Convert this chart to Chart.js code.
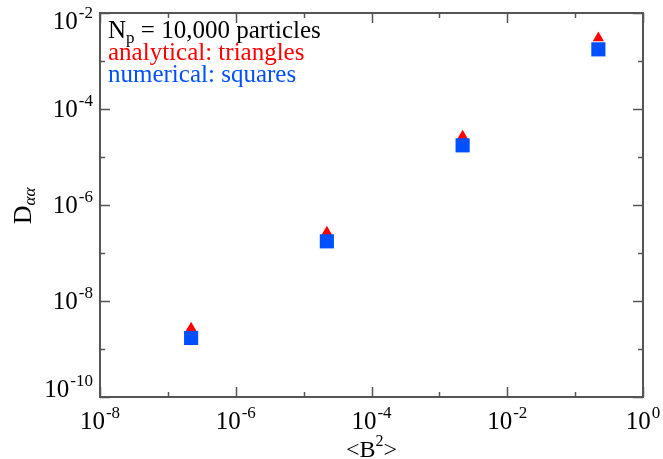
<!DOCTYPE html>
<html>
<head>
<meta charset="utf-8">
<script src="https://cdn.jsdelivr.net/npm/chart.js@4"></script>
<style>
  html, body { margin: 0; padding: 0; background: #fff; }
  #wrap { width: 663px; height: 459px; }
</style>
</head>
<body>
<div id="wrap"><canvas id="graph"></canvas></div>
<script>
const canvas = document.getElementById('graph');

// <B^2> values and diffusion coefficients
const fieldPower = [2.2e-7, 2.2e-5, 2.2e-3, 2.2e-1];
const analytical = [2.7e-9, 2.7e-7, 2.7e-5, 3.0e-3];
const numerical = [1.7e-9, 1.75e-7, 1.75e-5, 1.75e-3];

// decade exponents for ticks; labelled ones get long ticks
const xDecades = [-8, -7, -6, -5, -4, -3, -2, -1, 0];
const xLabelled = [-8, -6, -4, -2, 0];
const yDecades = [-10, -9, -8, -7, -6, -5, -4, -3, -2];
const yLabelled = [-10, -8, -6, -4, -2];

const legendLines = [
    { text: 'N', sub: 'p', rest: ' = 10,000 particles', color: '#000000' },
    { text: 'analytical: triangles', color: '#ff0000' },
    { text: 'numerical: squares', color: '#0050ff' }
];

const SERIF = '"Liberation Serif", "DejaVu Serif", serif';
const RED = '#ff0000';
const BLUE = '#0050ff';

function toPoints(xs, ys) {
    return xs.map((x, i) => ({ x: x, y: ys[i] }));
}

function powerLabelWidth(ctx, exp) {
    ctx.font = '25px ' + SERIF;
    const w1 = ctx.measureText('10').width;
    ctx.font = '17px ' + SERIF;
    const w2 = ctx.measureText(String(exp)).width;
    return [w1, w2];
}

// draws "10" with a raised exponent, left edge at x, "10" centred on y
function drawPower(ctx, exp, x, y) {
    const [w1] = powerLabelWidth(ctx, exp);
    ctx.textBaseline = 'alphabetic';
    ctx.textAlign = 'left';
    ctx.font = '25px ' + SERIF;
    ctx.fillText('10', x, y + 8);
    ctx.font = '17px ' + SERIF;
    ctx.fillText(String(exp), x + w1 + 1, y - 3);
}

const framePlugin = {
    id: 'frame',
    afterDraw(chart) {
        const ctx = chart.ctx;
        const area = chart.chartArea;
        const xs = chart.scales.x;
        const ys = chart.scales.y;
        ctx.save();

        // frame
        ctx.strokeStyle = '#555555';
        ctx.lineWidth = 2;
        ctx.strokeRect(area.left, area.top, area.right - area.left, area.bottom - area.top);

        // inward ticks on all four sides
        ctx.lineWidth = 1.5;
        ctx.beginPath();
        xDecades.forEach(e => {
            const px = Math.round(xs.getPixelForValue(Math.pow(10, e))) + 0.5;
            const len = xLabelled.includes(e) ? 10 : 5;
            ctx.moveTo(px, area.bottom);
            ctx.lineTo(px, area.bottom - len);
            ctx.moveTo(px, area.top);
            ctx.lineTo(px, area.top + len);
        });
        yDecades.forEach(e => {
            const py = Math.round(ys.getPixelForValue(Math.pow(10, e))) + 0.5;
            const len = yLabelled.includes(e) ? 10 : 5;
            ctx.moveTo(area.left, py);
            ctx.lineTo(area.left + len, py);
            ctx.moveTo(area.right, py);
            ctx.lineTo(area.right - len, py);
        });
        ctx.stroke();

        // tick labels
        ctx.fillStyle = '#000000';
        xLabelled.forEach(e => {
            const px = xs.getPixelForValue(Math.pow(10, e));
            const [w1, w2] = powerLabelWidth(ctx, e);
            const total = w1 + 1 + w2;
            drawPower(ctx, e, px - total / 2, area.bottom + 24);
        });
        yLabelled.forEach(e => {
            let py = ys.getPixelForValue(Math.pow(10, e));
            py = Math.min(Math.max(py, area.top + 8), area.bottom - 8);
            const [w1, w2] = powerLabelWidth(ctx, e);
            const total = w1 + 1 + w2;
            drawPower(ctx, e, area.left - 7 - total, py);
        });

        // axis titles
        ctx.font = '24px ' + SERIF;
        ctx.textAlign = 'left';
        ctx.textBaseline = 'alphabetic';
        const cx = (area.left + area.right) / 2;
        const wLt = ctx.measureText('<B').width;
        ctx.font = '16px ' + SERIF;
        const wTwo = ctx.measureText('2').width;
        ctx.font = '24px ' + SERIF;
        const wGt = ctx.measureText('>').width;
        let tx = cx - (wLt + wTwo + wGt) / 2;
        ctx.fillText('<B', tx, 457);
        ctx.font = '16px ' + SERIF;
        ctx.fillText('2', tx + wLt, 446);
        ctx.font = '24px ' + SERIF;
        ctx.fillText('>', tx + wLt + wTwo, 457);

        ctx.save();
        ctx.translate(31, 206);
        ctx.rotate(-Math.PI / 2);
        ctx.font = '26px ' + SERIF;
        const wD = ctx.measureText('D').width;
        ctx.font = 'italic 17px ' + SERIF;
        const wAA = ctx.measureText('αα').width;
        const start = -(wD + wAA) / 2;
        ctx.font = '26px ' + SERIF;
        ctx.fillText('D', start, 0);
        ctx.font = 'italic 17px ' + SERIF;
        ctx.fillText('αα', start + wD, 4);
        ctx.restore();

        // in-plot legend
        let ly = area.top + 25;
        legendLines.forEach(line => {
            ctx.fillStyle = line.color;
            ctx.font = '25px ' + SERIF;
            let lx = area.left + 8;
            ctx.fillText(line.text, lx, ly);
            if (line.sub) {
                lx += ctx.measureText(line.text).width;
                ctx.font = '17px ' + SERIF;
                ctx.fillText(line.sub, lx, ly + 5);
                lx += ctx.measureText(line.sub).width;
                ctx.font = '25px ' + SERIF;
                ctx.fillText(line.rest, lx, ly);
            }
            ly += 22;
        });

        ctx.restore();
    }
};

const chart = new Chart(canvas, {
    type: 'scatter',
    data: {
        datasets: [
            {
                label: 'numerical',
                data: toPoints(fieldPower, numerical),
                pointStyle: 'rect',
                pointRadius: 10,
                pointHoverRadius: 10,
                backgroundColor: BLUE,
                borderWidth: 0,
                order: 0
            },
            {
                label: 'analytical',
                data: toPoints(fieldPower, analytical),
                pointStyle: 'triangle',
                pointRadius: 6.5,
                pointHoverRadius: 6.5,
                backgroundColor: RED,
                borderWidth: 0,
                order: 1
            }
        ]
    },
    options: {
        responsive: true,
        maintainAspectRatio: false,
        animation: false,
        clip: false,
        layout: {
            padding: { left: 100, right: 20, top: 13, bottom: 62 }
        },
        plugins: {
            legend: { display: false },
            tooltip: { enabled: false }
        },
        scales: {
            x: {
                type: 'logarithmic',
                min: 1e-8,
                max: 1,
                display: false
            },
            y: {
                type: 'logarithmic',
                min: 1e-10,
                max: 1e-2,
                display: false
            }
        }
    },
    plugins: [framePlugin]
});
</script>
</body>
</html>
